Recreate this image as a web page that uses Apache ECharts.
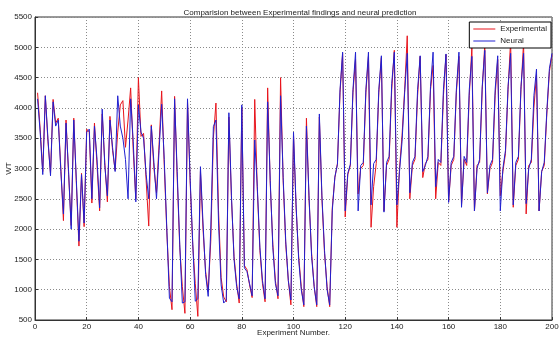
<!DOCTYPE html>
<html>
<head>
<meta charset="utf-8">
<script src="https://cdn.jsdelivr.net/npm/echarts@6/dist/echarts.min.js"></script>
<style>
  html, body { margin: 0; padding: 0; background: #fff; }
  #chart { width: 560px; height: 339px; }
</style>
</head>
<body>
<div id="chart"></div>
<script>
// experiment numbers run 1..200
var experimental = [
  4250, 3650, 2950, 4200, 3450, 2920, 4140, 3750, 3830, 3000,
  2140, 3800, 2900, 2060, 3830, 2750, 1720, 2920, 2040, 3650,
  3600, 2430, 3750, 3050, 2300, 3900, 3100, 2450, 3860, 3300,
  2970, 3600, 4050, 4120, 3350, 3800, 4330, 3300, 2500, 4500,
  3530, 3580, 2800, 2050, 3720, 3000, 2600, 3400, 4280, 3050,
  1950, 1050, 670, 4190, 2850, 1700, 1050, 610, 4100, 2800,
  1750, 1100, 560, 2950, 2000, 1300, 970, 1800, 3500, 4080,
  2300, 1200, 880, 800, 3850, 2500, 1550, 1100, 780, 4000,
  1400, 1330, 1080, 870, 4140, 2650, 1650, 1100, 800, 4330,
  2750, 1750, 1150, 850, 4500, 2800, 1750, 1150, 750, 3550,
  2350, 1550, 1050, 720, 3830, 2500, 1600, 1050, 720, 3850,
  2500, 1600, 1050, 720, 2350, 2850, 3080, 4250, 4900, 2200,
  2900, 3050, 4250, 4800, 2580, 3000, 3050, 4250, 4850, 2030,
  2700, 3080, 4250, 4830, 2300, 3050, 3150, 4300, 4950, 2030,
  3000, 3550, 4300, 5190, 2500, 3050, 3150, 4200, 4850, 2850,
  3080, 3150, 4300, 4700, 2500, 3100, 3050, 4200, 4880, 2450,
  3050, 3150, 4250, 4850, 2400, 3150, 3050, 4200, 5000, 2300,
  3050, 3100, 4300, 5050, 2580, 3000, 3100, 4200, 4800, 2550,
  2950, 3250, 4300, 5110, 2360, 3050, 3150, 4300, 5080, 2250,
  3050, 3100, 4000, 4550, 2300, 2950, 3050, 3900, 4600, 4880
];
var neural = [
  4150, 3600, 2900, 4200, 3500, 2880, 4100, 3700, 3800, 2950,
  2250, 3750, 2950, 2000, 3800, 2800, 1800, 2900, 2100, 3600,
  3650, 2500, 3700, 3150, 2350, 3980, 3050, 2550, 3800, 3350,
  2950, 4200, 3700, 3500, 3150, 2500, 4150, 3450, 2450, 4050,
  3600, 3500, 2900, 2500, 3700, 3100, 2500, 3300, 4060, 3150,
  2000, 860, 800, 4150, 2950, 1750, 780, 800, 4150, 2850,
  1800, 810, 850, 3030, 2100, 1250, 890, 2000, 3690, 3800,
  2100, 1080, 780, 830, 3920, 2550, 1500, 1050, 850, 4050,
  1360, 1300, 1100, 900, 3470, 2700, 1700, 1150, 850, 4100,
  2800, 1700, 1100, 900, 4200, 2850, 1800, 1150, 830, 3600,
  2400, 1500, 1000, 750, 3700, 2550, 1550, 1050, 750, 3900,
  2550, 1650, 1000, 750, 2300, 2860, 3070, 4300, 4920, 2300,
  2920, 3070, 4300, 4920, 2300, 3050, 3100, 4300, 4920, 2400,
  3080, 3150, 4300, 4860, 2280, 3100, 3200, 4400, 4920, 2400,
  2950, 3450, 4250, 4900, 2600, 3100, 3200, 4300, 4860, 2950,
  3050, 3200, 4350, 4920, 2700, 3150, 3100, 4300, 4890, 2440,
  3100, 3200, 4300, 4920, 2360, 3200, 3100, 4300, 4850, 2300,
  3000, 3150, 4350, 4950, 2600, 3050, 3150, 4300, 4860, 2300,
  3000, 3300, 4350, 4900, 2400, 3100, 3200, 4350, 4900, 2420,
  3000, 3150, 4200, 4640, 2300, 2950, 3100, 3950, 4650, 4900
];
var xTicks = [0, 200, 20];      // min, max, step
var yTicks = [500, 5500, 500];

function pairs(arr) {
  return arr.map(function (v, i) { return [i + 1, v]; });
}

var chart = echarts.init(document.getElementById('chart'));
var labelFont = { fontSize: 8, color: '#222', fontFamily: 'Liberation Sans, Arial, sans-serif' };
var dotted = { show: true, lineStyle: { color: '#8a8a8a', type: [1, 2], width: 1 } };
var plain = function (v) { return String(v); };

chart.setOption({
  animation: false,
  backgroundColor: '#fff',
  title: {
    text: 'Comparision between Experimental findings and neural prediction',
    left: 295, top: 4, textAlign: 'center',
    textStyle: { fontSize: 8, fontWeight: 'normal', color: '#222', fontFamily: 'Liberation Sans, Arial, sans-serif' }
  },
  legend: {
    data: ['Experimental', 'Neural'],
    orient: 'vertical', right: 9, top: 22,
    itemWidth: 22, itemHeight: 1, itemGap: 4, icon: 'rect',
    padding: [3, 4, 3, 4],
    borderColor: '#000', borderWidth: 1, backgroundColor: '#fff',
    textStyle: labelFont
  },
  grid: {
    left: 35, right: 8, top: 17, bottom: 19,
    show: true, borderColor: '#333', borderWidth: 1,
    containLabel: false, outerBoundsMode: 'none'
  },
  xAxis: {
    type: 'value', min: xTicks[0], max: xTicks[1], interval: xTicks[2],
    name: 'Experiment Number.', nameLocation: 'middle', nameGap: 9,
    nameMoveOverlap: false,
    nameTextStyle: labelFont,
    axisLine: { lineStyle: { color: '#333' } },
    axisTick: { inside: true, length: 3, lineStyle: { color: '#333' } },
    axisLabel: Object.assign({ margin: 3, formatter: plain }, labelFont),
    splitLine: dotted
  },
  yAxis: {
    type: 'value', min: yTicks[0], max: yTicks[1], interval: yTicks[2],
    name: 'WT', nameLocation: 'middle', nameGap: 22, nameRotate: 90,
    nameMoveOverlap: false,
    nameTextStyle: labelFont,
    axisLine: { show: true, lineStyle: { color: '#333' } },
    axisTick: { show: true, inside: true, length: 3, lineStyle: { color: '#333' } },
    axisLabel: Object.assign({ margin: 3, formatter: plain }, labelFont),
    splitLine: dotted
  },
  series: [
    {
      name: 'Experimental', type: 'line', data: pairs(experimental),
      showSymbol: false, symbol: 'none', color: '#e8141c',
      lineStyle: { width: 1, color: '#e8141c' }
    },
    {
      name: 'Neural', type: 'line', data: pairs(neural),
      showSymbol: false, symbol: 'none', color: '#2020d0',
      lineStyle: { width: 1, color: '#2020d0' }
    }
  ]
});
</script>
</body>
</html>
